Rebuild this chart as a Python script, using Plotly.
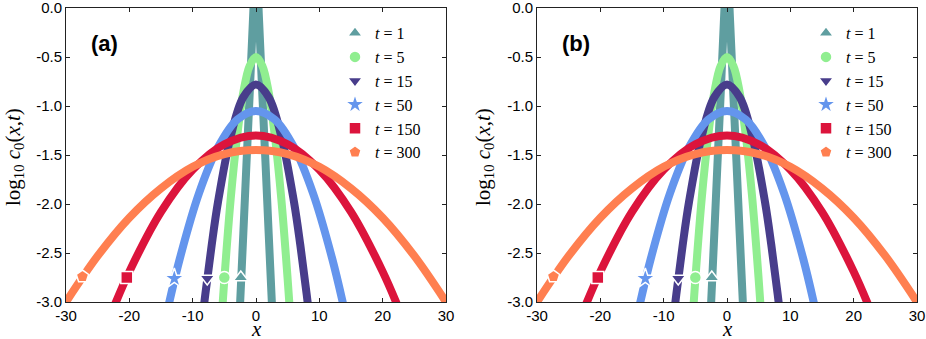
import plotly.graph_objects as go

# ---------------- data ----------------
t_labels = ["1", "5", "15", "50", "150", "300"]
colors = ["#5F9EA0", "#90EE90", "#483D8B", "#6495ED", "#DC143C", "#FF7F50"]
symbols = ["triangle-up", "circle", "triangle-down", "star", "square", "pentagon"]

x_t1 = [-3.0, -2.5, -2.0, -1.5, -1.0, -0.5, 0.0, 0.5, 1.0, 1.5, 2.0, 2.5, 3.0]
y_t1 = [-3.72, -3.00, -2.30, -1.58, -0.88, -0.15, 0.45, -0.15, -0.88, -1.58, -2.30, -3.00, -3.72]

x_t5 = [-6.0, -5.5, -5.0, -4.0, -3.0, -2.0, -1.0, 0.0, 1.0, 2.0, 3.0, 4.0, 5.0, 5.5, 6.0]
y_t5 = [-3.77, -3.24, -2.77, -1.95, -1.32, -0.86, -0.59, -0.50, -0.59, -0.86, -1.32, -1.95, -2.77, -3.24, -3.77]

x_t15 = [-9.0, -8.0, -7.0, -6.0, -4.0, -2.0, 0.0, 2.0, 4.0, 6.0, 7.0, 8.0, 9.0]
y_t15 = [-3.49, -2.92, -2.42, -1.98, -1.31, -0.91, -0.78, -0.91, -1.31, -1.98, -2.42, -2.92, -3.49]

x_t50 = [-15.0, -14.0, -12.0, -9.0, -6.0, -3.0, 0.0, 3.0, 6.0, 9.0, 12.0, 14.0, 15.0]
y_t50 = [-3.39, -3.09, -2.55, -1.89, -1.42, -1.14, -1.05, -1.14, -1.42, -1.89, -2.55, -3.09, -3.39]

x_t150 = [-23.0, -20.0, -15.0, -10.0, -5.0, 0.0, 5.0, 10.0, 15.0, 20.0, 23.0]
y_t150 = [-3.14, -2.69, -2.08, -1.65, -1.39, -1.30, -1.39, -1.65, -2.08, -2.69, -3.14]

x_t300 = [-30.0, -25.0, -20.0, -15.0, -10.0, -5.0, 0.0, 5.0, 10.0, 15.0, 20.0, 25.0, 30.0]
y_t300 = [-3.00, -2.53, -2.14, -1.84, -1.62, -1.49, -1.45, -1.49, -1.62, -1.84, -2.14, -2.53, -3.00]

marker_x = [-2.4, -5.0, -7.7, -12.9, -20.4, -27.4]
marker_y = [-2.75, -2.75, -2.76, -2.76, -2.75, -2.74]
marker_sizes = [13, 12, 13, 15, 12, 13]

x_tickvals = [-30, -20, -10, 0, 10, 20, 30]
x_ticktext = ["-30", "-20", "-10", "0", "10", "20", "30"]
y_tickvals = [-3.0, -2.5, -2.0, -1.5, -1.0, -0.5, 0.0]
y_ticktext = ["-3.0", "-2.5", "-2.0", "-1.5", "-1.0", "-0.5", "0.0"]
panel_labels = ["(a)", "(b)"]
x_title = "<i>x</i>"
y_title = "log<sub>10</sub> <i>c</i><sub>0</sub>(<i>x</i>,<i>t</i>)"

curves_x = [x_t1, x_t5, x_t15, x_t50, x_t150, x_t300]
curves_y = [y_t1, y_t5, y_t15, y_t50, y_t150, y_t300]

# ---------------- figure ----------------
W, H = 926, 339
ml, mr, mt, mb = 66, 9, 8, 37
pw = W - ml - mr
ph = H - mt - mb

def px2paper_x(px):
    return (px - ml) / pw

def px2paper_y(py):
    return 1 - (py - mt) / ph

panel_px = [(66, 446), (537, 917)]
domains = [(px2paper_x(a), px2paper_x(b)) for a, b in panel_px]

fig = go.Figure()

for p in range(2):
    xa = "x" if p == 0 else "x2"
    ya = "y" if p == 0 else "y2"
    leg = "legend" if p == 0 else "legend2"
    for i in range(6):
        fig.add_trace(go.Scatter(
            x=curves_x[i], y=curves_y[i], mode="lines",
            line=dict(color=colors[i], width=8, shape="spline", smoothing=1.0),
            xaxis=xa, yaxis=ya, showlegend=False, hoverinfo="skip"))
    for i in range(6):
        fig.add_trace(go.Scatter(
            x=[marker_x[i]], y=[marker_y[i]], mode="markers",
            marker=dict(color=colors[i], symbol=symbols[i], size=marker_sizes[i],
                        line=dict(color="white", width=1.5)),
            name=f"<i>t</i> = {t_labels[i]}",
            xaxis=xa, yaxis=ya, showlegend=True, legend=leg))

axis_common = dict(
    showline=True, linecolor="#222", linewidth=1, mirror="allticks",
    ticks="inside", ticklen=4, tickwidth=1, tickcolor="#222",
    showgrid=False, zeroline=False, automargin=False, ticklabeloverflow="allow",
    tickfont=dict(family="Liberation Sans, Arial, sans-serif", size=15, color="black"),
)

title_font = dict(family="Liberation Serif, DejaVu Serif, serif", size=21, color="black")

for p in range(2):
    xkey = "xaxis" if p == 0 else "xaxis2"
    ykey = "yaxis" if p == 0 else "yaxis2"
    fig.update_layout({
        xkey: dict(axis_common, domain=list(domains[p]), range=[-30, 30],
                   tickvals=x_tickvals, ticktext=x_ticktext,
                   anchor="y" if p == 0 else "y2"),
        ykey: dict(axis_common, domain=[0, 1], range=[-3.0, 0.0],
                   tickvals=y_tickvals, ticktext=y_ticktext,
                   anchor="x" if p == 0 else "x2"),
    })

leg_common = dict(
    font=dict(family="Liberation Serif, DejaVu Serif, serif", size=16, color="black"),
    bgcolor="rgba(0,0,0,0)", borderwidth=0, tracegroupgap=0,
    xanchor="left", yanchor="top", itemwidth=30,
)
fig.update_layout(
    legend=dict(leg_common, x=px2paper_x(335), y=px2paper_y(16.2)),
    legend2=dict(leg_common, x=px2paper_x(335 + 471), y=px2paper_y(16.2)),
)

# panel labels and axis titles
label_x = [104.5, 576]
ytitle_x = [14, 484]
for p in range(2):
    fig.add_annotation(
        x=px2paper_x(label_x[p]), y=px2paper_y(43), xref="paper", yref="paper",
        text=f"<b>{panel_labels[p]}</b>", showarrow=False,
        font=dict(family="Liberation Sans, Arial, sans-serif", size=22, color="black"),
        xanchor="center", yanchor="middle")
    fig.add_annotation(
        x=px2paper_x((panel_px[p][0] + panel_px[p][1]) / 2), y=px2paper_y(328.5),
        xref="paper", yref="paper", text=x_title, showarrow=False,
        font=title_font, xanchor="center", yanchor="middle")
    fig.add_annotation(
        x=px2paper_x(ytitle_x[p]), y=px2paper_y(157), xref="paper", yref="paper",
        text=y_title, showarrow=False, textangle=-90,
        font=title_font, xanchor="center", yanchor="middle")

fig.update_layout(
    width=W, height=H,
    margin=dict(l=ml, r=mr, t=mt, b=mb, autoexpand=False),
    plot_bgcolor="white", paper_bgcolor="white",
)

fig.write_html("out.html", config={"displayModeBar": False},
               post_script="document.body.style.margin='0';")
